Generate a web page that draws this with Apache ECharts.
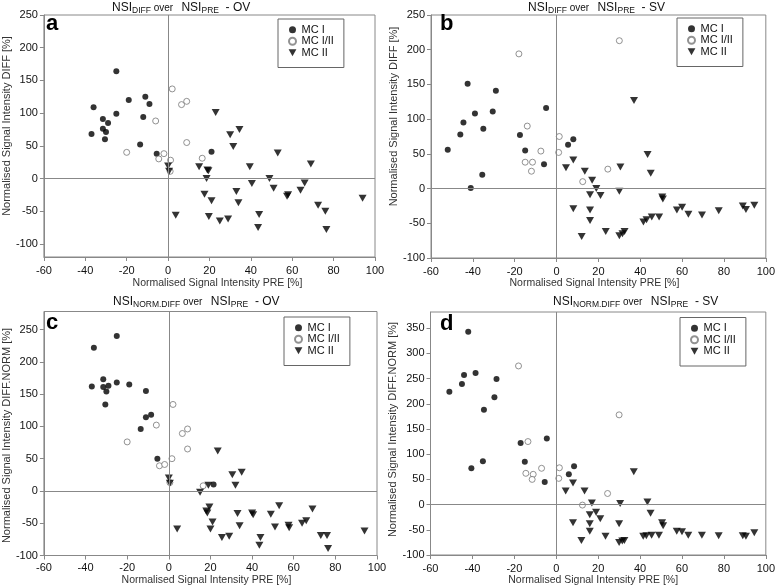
<!DOCTYPE html>
<html><head><meta charset="utf-8">
<script src="https://cdn.jsdelivr.net/npm/echarts@6/dist/echarts.min.js"></script>
<style>html,body{margin:0;padding:0;background:#fff}#c{width:778px;height:588px}</style>
</head><body><div id="c"></div>
<script>
// ---- data ----
var seriesNames = ['MC I', 'MC I/II', 'MC II'];
var panelLetters = ['a', 'b', 'c', 'd'];
var xTicks = [-60, -40, -20, 0, 20, 40, 60, 80, 100];
var yTicksAB = [-100, -50, 0, 50, 100, 150, 200, 250];
var yTicksC = [-100, -50, 0, 50, 100, 150, 200, 250];
var yTicksD = [-100, -50, 0, 50, 100, 150, 200, 250, 300, 350];

var a_mc1 = [[-25,164],[-36,109],[-19,120],[-11,125],[-9,114],[-12,94],[-25,99],[-31.5,91],[-29,85],[-31.5,76],[-30,71],[-37,68],[-30.5,60],[-13.5,52],[-5.5,38],[21,41]];
var a_mc12 = [[2,137],[6.5,113],[9,118],[-6,88],[9,55],[-20,40],[-4.5,30],[-2,38],[1.2,28],[16.5,31],[1,11]];
var a_mc2 = [[23,101],[30,67],[34.5,75],[31.5,49],[0,19],[0.5,11],[15,18],[19,13],[19.5,12],[18.6,0],[17.6,-24],[21,-34],[3.7,-56],[19.7,-58],[25,-65],[29,-62],[33,-20],[34,-37],[39.5,18],[40.5,-7.5],[44,-55],[43.5,-75],[49,0],[51,-15],[53,39],[57.5,-27],[58,-25],[64,-18],[66,-7],[69,22],[72.5,-41],[76,-50],[76.5,-78],[94,-30]];

var b_mc1 = [[-52,56],[-46,78],[-44.5,95],[-42.5,151],[-39,108],[-41,1],[-35,86],[-35.5,20],[-29,141],[-30.5,111],[-17.5,77],[-15,55],[-5,116],[-6,35],[5.5,63],[8,71]];
var b_mc12 = [[-18,194],[30,213],[-14,90],[-7.5,54],[-15,38],[-11.5,38],[-12,25],[1.3,75],[1,52],[12.5,10],[24.5,28]];
var b_mc2 = [[37,127],[43.5,49],[45,22],[8,41],[4.5,30],[13.5,25],[17,12],[19,0],[16,-9],[21,-10],[8,-29],[16,-31],[16,-46],[12,-69],[23.5,-62],[30,-4],[30.5,31],[30,-68],[31.5,-65],[32.5,-62],[41.5,-48],[43,-45],[45.5,-41],[49,-41],[50.5,-12],[50.8,-15],[57.5,-31],[60,-27],[63,-37],[69.5,-38],[77.5,-32],[89,-25],[90.5,-30],[94.5,-24]];

var c_mc1 = [[-36,222],[-25,240],[-37,162],[-31.5,173],[-31.5,161],[-29,163],[-30,154],[-30.5,134],[-25,168],[-19,165],[-11,155],[-11,114],[-8.5,118],[-13.5,96],[-5.5,50],[21.5,10]];
var c_mc12 = [[2,134],[6.5,89],[9,96],[-6,102],[9,65],[-20,76],[-4.5,39],[-2,41],[1.5,50],[16.5,8],[0.5,13]];
var c_mc2 = [[23.5,62],[30.5,25],[35,29],[32,9],[0,20],[0.5,12],[15,-2],[19,9],[18.5,-34],[18,-31],[19.5,-25],[21,-48],[20,-59],[4,-59],[25.5,-72],[29,-70],[33,-35],[34,-54],[40,-34],[40.5,-37],[44,-72],[43.5,-84],[49,-36],[51,-56],[53,-23],[57.5,-53],[57.8,-57],[64,-50],[66,-46],[69,-28],[73,-69],[76,-69],[76.5,-89],[94,-62]];

var d_mc1 = [[-42,343],[-51,224],[-45,239],[-44,257],[-38.5,261],[-28.5,249],[-29.5,213],[-34.5,188],[-40.5,72],[-35,86],[-17,122],[-15,85],[-4.5,131],[-5.5,45],[6,60],[8.5,76]];
var d_mc12 = [[-18,275],[30,178],[-13.5,125],[-7,72],[-14.5,62],[-11,60],[-11.5,50],[1.5,73],[1.2,52],[12.5,-1],[24.5,22]];
var d_mc2 = [[37,65],[8,43],[4.5,27],[13.5,27],[17,3],[30.5,2],[43.5,5],[45,-17],[16,-20],[19,-15],[21,-28],[8,-36],[16,-38],[16,-53],[12,-71],[23.5,-63],[30,-38],[30,-75],[31.5,-72],[32.5,-71],[41.5,-63],[43,-62],[45.5,-61],[49,-61],[50.5,-36],[51,-42],[57.5,-53],[60,-54],[63,-61],[69.5,-61],[77.5,-62],[89,-62],[90.5,-63],[94.5,-56]];

var xName = 'Normalised Signal Intensity PRE [%]';
var yNameAB = 'Normalised Signal Intensity DIFF [%]';
var yNameCD = 'Normalised Signal Intensity DIFF.NORM [%]';

// ---- layout ----
var FONT = 'Arial, "Liberation Sans", sans-serif';
var AX = '#888';
var TRI = 'path://M0,0L10,0L5,9Z';

var panels = [
  {grid:{left:38,top:15,width:337,height:242}, ymin:-120, ymax:250, yt:yTicksAB, data:[a_mc1,a_mc12,a_mc2], yName:yNameAB,
   xNameGap:21, xPad:[0,0,0,16], xLM:8, yNameGap:25, yPad:[0,0,0,20],
   legend:{left:278,top:19}, title:{left:112,top:3.5,sub:'DIFF',tail:'OV'}, letter:[46,34]},
  {grid:{left:431,top:15,width:337,height:243}, ymin:-100, ymax:250, yt:yTicksAB, data:[b_mc1,b_mc12,b_mc2], yName:yNameAB,
   xNameGap:20, xPad:[0,8,0,0], xLM:8, yNameGap:26, yPad:[0,0,0,40],
   legend:{left:677,top:18}, title:{left:528,top:3.5,sub:'DIFF',tail:'SV'}, letter:[440,34.3]},
  {grid:{left:38,top:311.5,width:339,height:244}, ymin:-100, ymax:278, yt:yTicksC, data:[c_mc1,c_mc12,c_mc2], yName:yNameCD,
   xNameGap:17, xPad:[0,8,0,0], xLM:7, yNameGap:26, yPad:[0,4,0,0],
   legend:{left:284,top:317}, title:{left:113,top:296.8,sub:'NORM.DIFF',tail:'OV'}, letter:[46,333.3]},
  {grid:{left:430.5,top:312,width:338,height:243}, ymin:-100, ymax:382, yt:yTicksD, data:[d_mc1,d_mc12,d_mc2], yName:yNameCD,
   xNameGap:20, xPad:[0,10,0,0], xLM:8, yNameGap:26, yPad:[0,0,0,8],
   legend:{left:680,top:317.5}, title:{left:553,top:296.8,sub:'NORM.DIFF',tail:'SV'}, letter:[440,334]}
];

var option = {
  animation:false,
  backgroundColor:'#fff',
  grid:[], xAxis:[], yAxis:[], series:[], legend:[], title:[], graphic:[]
};

var symStyles = [
  {symbol:'circle', symbolSize:6, itemStyle:{color:'#000'}},
  {symbol:'circle', symbolSize:6, itemStyle:{color:'#fff', borderColor:'#777', borderWidth:1}},
  {symbol:TRI, symbolSize:[8,7], itemStyle:{color:'#000'}}
];

panels.forEach(function(p, i){
  option.grid.push(Object.assign({show:true, borderColor:AX, borderWidth:1, backgroundColor:'transparent'}, p.grid));
  option.xAxis.push({
    gridIndex:i, type:'value', min:-60, max:100, interval:20,
    axisLine:{onZero:false, lineStyle:{color:AX}},
    axisTick:{inside:false, length:4, lineStyle:{color:AX}},
    axisLabel:{fontFamily:FONT, fontSize:11, color:'#111', margin:p.xLM},
    splitLine:{show:false},
    name:xName, nameLocation:'middle', nameGap:p.xNameGap,
    nameTextStyle:{fontFamily:FONT, fontSize:10.5, color:'#333', padding:p.xPad}
  });
  option.yAxis.push({
    gridIndex:i, type:'value', min:p.ymin, max:p.ymax,
    axisLine:{onZero:false, lineStyle:{color:AX}},
    axisTick:{inside:false, length:4, lineStyle:{color:AX}, customValues:p.yt},
    axisLabel:{fontFamily:FONT, fontSize:11, color:'#111', margin:6, customValues:p.yt},
    splitLine:{show:false},
    name:p.yName, nameLocation:'middle', nameGap:p.yNameGap, nameRotate:90,
    nameTextStyle:{fontFamily:FONT, fontSize:11, color:'#333', padding:p.yPad}
  });
  p.data.forEach(function(d, k){
    var s = Object.assign({
      type:'scatter', name:seriesNames[k], xAxisIndex:i, yAxisIndex:i, data:d, z:3
    }, JSON.parse(JSON.stringify(symStyles[k])));
    if (k === 0) {
      s.markLine = {
        silent:true, symbol:['none','none'], label:{show:false},
        lineStyle:{color:AX, width:1, type:'solid'},
        emphasis:{disabled:true},
        data:[{xAxis:0},{yAxis:0}]
      };
    }
    option.series.push(s);
  });
  option.legend.push({
    data:seriesNames, orient:'vertical', left:p.legend.left, top:p.legend.top,
    borderColor:'#666', borderWidth:1, padding:[5,10,9,10],
    itemWidth:8, itemHeight:7, itemGap:0, selectedMode:false,
    textStyle:{fontFamily:FONT, fontSize:11, color:'#111', lineHeight:11.5}
  });
  option.title.push({
    left:p.title.left, top:p.title.top, padding:0,
    text:'{m|NSI}{s|' + p.title.sub + '}{o| over   }{m|NSI}{s|PRE}{m|  - ' + p.title.tail + '}',
    textStyle:{
      fontWeight:'normal',
      rich:{
        m:{fontFamily:FONT, fontSize:12, fontWeight:'normal', color:'#111', lineHeight:12, verticalAlign:'bottom', padding:[0,0,1.5,0]},
        s:{fontFamily:FONT, fontSize:8.5, fontWeight:'normal', color:'#111', lineHeight:9, verticalAlign:'bottom'},
        o:{fontFamily:FONT, fontSize:10, fontWeight:'normal', color:'#111', lineHeight:10, verticalAlign:'bottom', padding:[0,0,1.8,0]}
      }
    }
  });
  option.graphic.push({
    type:'text', left:p.letter[0], top:p.letter[1]-21, z:10,
    style:{text:panelLetters[i], font:'bold 22px ' + FONT, fill:'#000'}
  });
});

var chart = echarts.init(document.getElementById('c'), null, {renderer:'canvas'});
chart.setOption(option);
</script>
</body></html>
